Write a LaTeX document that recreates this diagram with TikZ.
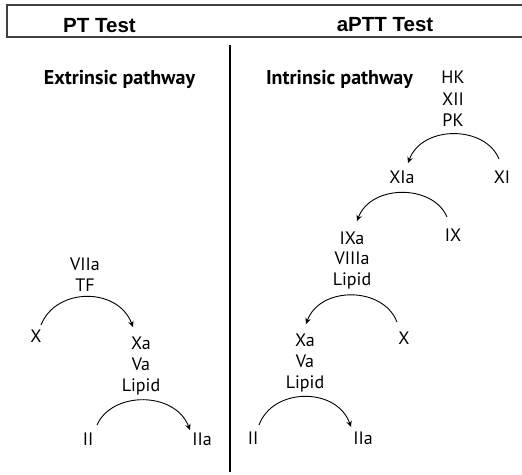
\documentclass[tikz,border=0pt]{standalone}
\usepackage{fontspec}
\setmainfont{PT Sans}
\newfontfamily\hdrfont{Liberation Sans}
\usetikzlibrary{arrows.meta}
\begin{document}
\begin{tikzpicture}[x=1pt,y=-1pt,
  lbl/.style={font=\fontsize{18}{21}\selectfont, inner sep=0pt, anchor=base},
  ttl/.style={font=\fontsize{20}{24}\selectfont\bfseries, inner sep=0pt, anchor=base},
  hd/.style={font=\hdrfont\bfseries\fontsize{20.5}{24}\selectfont, inner sep=0pt, anchor=base},
  rx/.style={-{Stealth[length=6pt,width=5.5pt]}, line width=0.9pt}]
\useasboundingbox (0,0) rectangle (522,474);
% header
\draw[line width=1.2pt, black!75] (523,5) -- (7,5) -- (7,37) -- (523,37);
\node[hd] (pt) at (99.5,32) {PT Test};
\node[hd] (aptt) at (385,31) {aPTT Test};
% divider
\coordinate (dtop) at (230,45);
\coordinate (dbot) at (230,472);
\draw[line width=2.4pt] (dtop) -- (dbot);
% titles
\node[ttl] (ext) at (119.5,84) {Extrinsic pathway};
\node[ttl] (int) at (339.5,84) {Intrinsic pathway};
% extrinsic
\node[lbl] (vii) at (85,270) {VIIa};
\node[lbl] (tf) at (85,291) {TF};
\node[lbl] (ex) at (36,342) {X};
\node[lbl] (exa) at (141,349) {Xa};
\node[lbl] (eva) at (141,370) {Va};
\node[lbl] (elip) at (141,391) {Lipid};
\node[lbl] (eii) at (88,445) {II};
\node[lbl] (eiia) at (202,445) {IIa};
\coordinate (e1s) at (41,325);
\coordinate (e1e) at (133,327);
\coordinate (e2s) at (97,425);
\coordinate (e2e) at (190,430);
\draw[rx] (e1s) .. controls (56,287) and (118,287) .. (e1e);
\draw[rx] (e2s) .. controls (112,391) and (175,391) .. (e2e);
% intrinsic
\node[lbl] (hk) at (453,83) {HK};
\node[lbl] (xii) at (453,105) {XII};
\node[lbl] (pk) at (453,126) {PK};
\node[lbl] (xia) at (402,183) {XIa};
\node[lbl] (xi) at (502,183) {XI};
\node[lbl] (ixa) at (352,244) {IXa};
\node[lbl] (ix) at (453,241) {IX};
\node[lbl] (viiia) at (352,264) {VIIIa};
\node[lbl] (ilip1) at (352,285) {Lipid};
\node[lbl] (ixx) at (404,344) {X};
\node[lbl] (ixa2) at (305,346) {Xa};
\node[lbl] (iva) at (305,367) {Va};
\node[lbl] (ilip2) at (305,388) {Lipid};
\node[lbl] (iii) at (253,444) {II};
\node[lbl] (iiia) at (363,444) {IIa};
\coordinate (i1s) at (499,159);
\coordinate (i1e) at (408,163);
\coordinate (i2s) at (447,217);
\coordinate (i2e) at (357,221);
\coordinate (i3s) at (397,322);
\coordinate (i3e) at (306,324);
\coordinate (i4s) at (259,425);
\coordinate (i4e) at (351,427);
\draw[rx] (i1s) .. controls (485,125) and (422,125) .. (i1e);
\draw[rx] (i2s) .. controls (433,184) and (371,184) .. (i2e);
\draw[rx] (i3s) .. controls (383,286) and (320,286) .. (i3e);
\draw[rx] (i4s) .. controls (273,387) and (337,387) .. (i4e);
\end{tikzpicture}
\end{document}
